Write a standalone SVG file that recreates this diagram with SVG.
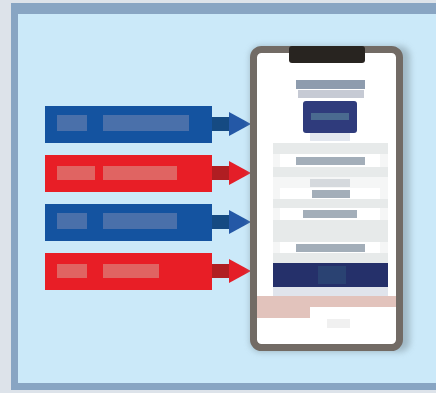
<svg xmlns="http://www.w3.org/2000/svg" width="436" height="393" viewBox="0 0 436 393">
<style>
.bg{fill:#cbe9f9}
.blueBar{fill:#1453a0}
.redBar{fill:#e81e26}
.blueTxt{fill:#4a70aa}
.redTxt{fill:#e06462}
.lbl{fill:#a3aeb9}
.fld{fill:#e7eaea}
.pink{fill:#e2c3bc}
</style>
<defs>
<marker id="ahBlue" markerUnits="userSpaceOnUse" markerWidth="22" markerHeight="24" viewBox="0 0 22 24" refX="0" refY="12" orient="auto"><path d="M0,0 L22,12 L0,24 z" fill="#2458a6"/></marker>
<marker id="ahRed" markerUnits="userSpaceOnUse" markerWidth="22" markerHeight="24" viewBox="0 0 22 24" refX="0" refY="12" orient="auto"><path d="M0,0 L22,12 L0,24 z" fill="#e41e28"/></marker>
<filter id="sh" x="-20%" y="-20%" width="140%" height="140%"><feGaussianBlur stdDeviation="3"/></filter>
</defs>
<rect x="0" y="0" width="436" height="393" fill="#dde3ea"/>
<rect x="11" y="3" width="425" height="387" fill="#88a5c3"/>
<rect class="bg" x="18" y="14" width="418" height="369"/>

<g id="connectors">
<path d="M210,124 L229,124" stroke="#154a82" stroke-width="14" marker-end="url(#ahBlue)"/>
<path d="M210,173 L229,173" stroke="#b01e22" stroke-width="14" marker-end="url(#ahRed)"/>
<path d="M210,222 L229,222" stroke="#154a82" stroke-width="14" marker-end="url(#ahBlue)"/>
<path d="M210,271 L229,271" stroke="#b01e22" stroke-width="14" marker-end="url(#ahRed)"/>
</g>

<g id="bar1">
<rect class="blueBar" x="45" y="106" width="167" height="37"/>
<rect class="blueTxt" x="57" y="115" width="30" height="16"/>
<rect class="blueTxt" x="103" y="115" width="86" height="16"/>
</g>
<g id="bar2">
<rect class="redBar" x="45" y="155" width="167" height="37"/>
<rect class="redTxt" x="57" y="166" width="38" height="14"/>
<rect class="redTxt" x="103" y="166" width="74" height="14"/>
</g>
<g id="bar3">
<rect class="blueBar" x="45" y="204" width="167" height="37"/>
<rect class="blueTxt" x="57" y="213" width="30" height="16"/>
<rect class="blueTxt" x="103" y="213" width="74" height="16"/>
</g>
<g id="bar4">
<rect class="redBar" x="45" y="253" width="167" height="37"/>
<rect class="redTxt" x="57" y="264" width="30" height="14"/>
<rect class="redTxt" x="103" y="264" width="56" height="14"/>
</g>

<g id="phone">
<rect x="250" y="46" width="160" height="306" rx="10" fill="#7f939c" opacity="0.55" filter="url(#sh)"/>
<rect x="253.5" y="49.5" width="146" height="298" rx="8" fill="#ffffff" stroke="#726b65" stroke-width="7"/>
<rect x="289" y="46" width="76" height="17" rx="3" fill="#282420"/>
<rect x="296" y="80" width="69" height="9" fill="#8e9cae"/>
<rect x="298" y="90" width="66" height="8" fill="#c6cad4"/>
<rect x="303" y="101" width="54" height="32" rx="3" fill="#2f3b7c"/>
<rect x="311" y="113" width="38" height="7" fill="#4a6a90"/>
<rect x="310" y="133" width="40" height="8" fill="#e3e7ef"/>
<rect x="273" y="143" width="115" height="153" fill="#f5f6f6"/>
<rect class="fld" x="273" y="143" width="115" height="11"/>
<rect x="280" y="154" width="100" height="13" fill="#ffffff"/>
<rect class="lbl" x="296" y="157" width="69" height="8"/>
<rect class="fld" x="273" y="167" width="115" height="10"/>
<rect x="310" y="179" width="40" height="8" fill="#d5d9dd"/>
<rect x="280" y="188" width="100" height="11" fill="#ffffff"/>
<rect class="lbl" x="312" y="190" width="38" height="8"/>
<rect class="fld" x="273" y="199" width="115" height="9"/>
<rect x="280" y="208" width="100" height="12" fill="#ffffff"/>
<rect class="lbl" x="303" y="210" width="54" height="8"/>
<rect class="fld" x="273" y="220" width="115" height="22"/>
<rect x="280" y="242" width="100" height="11" fill="#ffffff"/>
<rect class="lbl" x="296" y="244" width="69" height="8"/>
<rect class="fld" x="273" y="253" width="115" height="10"/>
<rect x="273" y="263" width="115" height="24" fill="#25306a"/>
<rect x="318" y="266" width="28" height="18" fill="#2a4272"/>
<rect x="273" y="287" width="115" height="9" fill="#e0e4ec"/>
<rect class="pink" x="257" y="296" width="139" height="11"/>
<rect class="pink" x="257" y="307" width="53" height="11"/>
<rect x="327" y="319" width="23" height="9" fill="#f0f0f0"/>
</g>
</svg>
